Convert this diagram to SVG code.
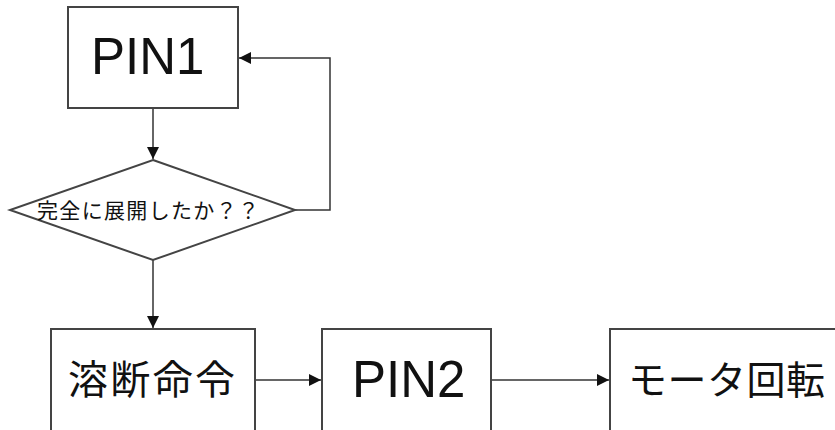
<svg xmlns="http://www.w3.org/2000/svg" width="835" height="430" viewBox="0 0 835 430">
<style>
.box{fill:#fff;stroke:#444;stroke-width:2}
.con{fill:none;stroke:#333;stroke-width:1.5}
.lat{font-family:"Liberation Sans",Arial,sans-serif;font-size:51px;fill:#111}
.jp{font-family:"Noto Sans CJK JP","Noto Sans CJK SC",sans-serif;fill:#111}
</style>
<defs>
<marker id="ah" viewBox="0 0 10 10" refX="10" refY="5" markerWidth="12" markerHeight="12" markerUnits="userSpaceOnUse" orient="auto">
<path d="M0,0 L10,5 L0,10 z" fill="#111"/>
</marker>
</defs>
<g id="connectors">
<path class="con" d="M153,108 V159" marker-end="url(#ah)"/>
<path class="con" d="M295,210 H330 V58 H239" marker-end="url(#ah)"/>
<path class="con" d="M153,260 V328" marker-end="url(#ah)"/>
<path class="con" d="M255,380 H321" marker-end="url(#ah)"/>
<path class="con" d="M491,380 H609" marker-end="url(#ah)"/>
</g>
<g id="pin1">
<rect class="box" x="68" y="7" width="170" height="101"/>
<text class="lat" x="91" y="74">PIN1</text>
</g>
<g id="decision">
<polygon class="box" points="153,160 295,210 153,260 10,210"/>
<text class="jp" x="37" y="218" font-size="21" textLength="222" lengthAdjust="spacing">完全に展開したか？？</text>
</g>
<g id="yodan">
<rect class="box" x="51" y="329" width="204" height="120"/>
<text class="jp" x="68" y="394" font-size="40" textLength="167" lengthAdjust="spacing">溶断命令</text>
</g>
<g id="pin2">
<rect class="box" x="322" y="329" width="169" height="120"/>
<text class="lat" x="352" y="397">PIN2</text>
</g>
<g id="motor">
<rect class="box" x="610" y="329" width="240" height="120"/>
<text class="jp" x="628" y="394" font-size="39" textLength="197" lengthAdjust="spacing">モータ回転</text>
</g>
</svg>
